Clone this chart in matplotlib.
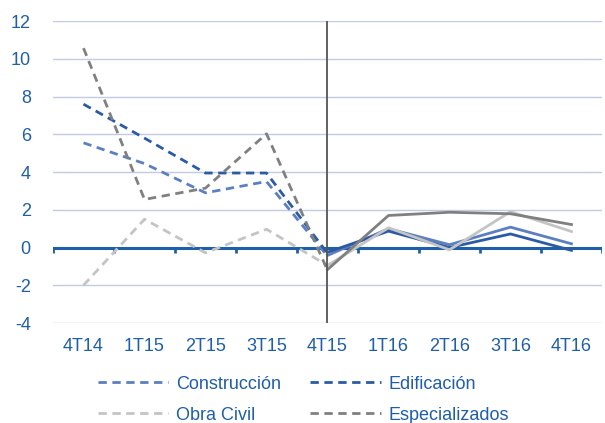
import matplotlib.pyplot as plt
from matplotlib.lines import Line2D

quarters = ["4T14", "1T15", "2T15", "3T15", "4T15", "1T16", "2T16", "3T16", "4T16"]

# 4T14 .. 4T15 (dashed)
construccion_a = [5.55, 4.45, 2.9, 3.5, -0.45]
edificacion_a = [7.6, 5.8, 3.95, 3.95, -0.3]
obra_civil_a = [-2.0, 1.5, -0.28, 0.97, -0.95]
especializados_a = [10.57, 2.55, 3.15, 6.03, -1.2]

# 4T15 .. 4T16 (solid)
construccion_b = [-0.42, 1.0, 0.15, 1.08, 0.2]
edificacion_b = [-0.25, 0.87, 0.0, 0.72, -0.15]
obra_civil_b = [-0.95, 1.05, -0.12, 1.9, 0.85]
especializados_b = [-1.17, 1.7, 1.87, 1.79, 1.22]

names = ["Construcción", "Edificación", "Obra Civil", "Especializados"]
colors = ["#5b7fc0", "#2a5ba4", "#c4c4c4", "#808080"]

plt.rcParams["font.family"] = ["Liberation Sans", "DejaVu Sans"]
plt.rcParams["axes.unicode_minus"] = False
text_color = "#1f5ea8"

fig = plt.figure(figsize=(6.05, 4.23), dpi=100)
ax = fig.add_axes([0.0876, 0.2364, 0.9074, 0.7136])

x_a = list(range(0, 5))
x_b = list(range(4, 9))
series_a = [construccion_a, edificacion_a, obra_civil_a, especializados_a]
series_b = [construccion_b, edificacion_b, obra_civil_b, especializados_b]

for ya, yb, c in zip(series_a, series_b, colors):
    ax.plot(x_a, ya, color=c, lw=2, dashes=(3, 2), zorder=3)
    ax.plot(x_b, yb, color=c, lw=2, zorder=3)

# grid and zero line
for v in range(-4, 13, 2):
    if v != 0:
        ax.axhline(v, color="#c3cae4", lw=1, zorder=1)
ax.axhline(0, color="#1f5ea8", lw=2.2, zorder=2)
ax.vlines([i + 0.5 for i in range(-1, len(quarters))], -0.3, 0,
          color="#1f5ea8", lw=2, zorder=2)
ax.axvline(4, color="#555555", lw=1.3, zorder=4)

ax.set_xlim(-0.5, 8.5)
ax.set_ylim(-4, 12)
ax.set_yticks(range(-4, 13, 2))
ax.set_xticks(range(len(quarters)))
ax.set_xticklabels(quarters)
ax.tick_params(length=0, labelsize=13, labelcolor=text_color)
ax.tick_params(axis="y", pad=16)
ax.tick_params(axis="x", pad=11)
for s in ax.spines.values():
    s.set_visible(False)

# legend filled row by row like the original
order = [0, 2, 1, 3]
handles = [Line2D([], [], color=colors[i], lw=2, dashes=(3, 2)) for i in order]
labels = [names[i] for i in order]
leg = fig.legend(handles, labels, loc="lower left", bbox_to_anchor=(0.135, -0.04),
                 ncol=2, frameon=False, fontsize=13, handlelength=3.9,
                 columnspacing=1.6, handletextpad=0.45, labelspacing=0.78)
for t in leg.get_texts():
    t.set_color(text_color)

fig.savefig("out.png", dpi=100)
